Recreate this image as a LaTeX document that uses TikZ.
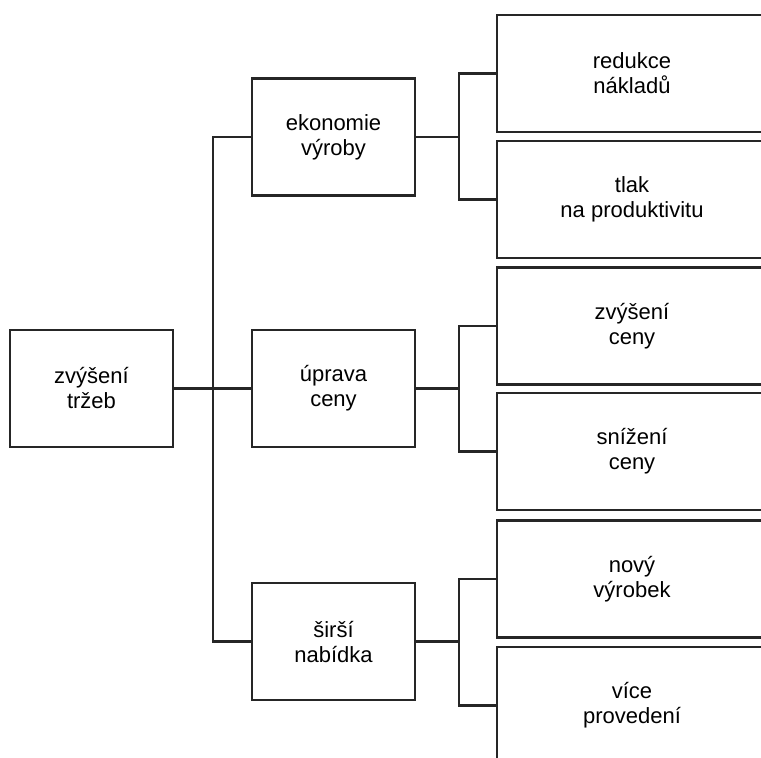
\documentclass[tikz,border=0pt]{standalone}
\usepackage{fontspec}
\setmainfont{Liberation Sans}
\begin{document}
\begin{tikzpicture}[x=1pt,y=-1pt,
  line width=2.1pt,
  color=black!85,
  link/.style={draw=black!85},
  box/.style={draw=black!85, rectangle, minimum height=117pt, inner sep=0pt,
    align=center, font=\fontsize{22}{25}\selectfont, text=black},
  lbox/.style={box, minimum width=163pt},
  rbox/.style={box, minimum width=270pt}]
\useasboundingbox (0,0) rectangle (761,758);
\clip (0,0) rectangle (761,758);

% root
\node[lbox] (root) at (91.5,388.5) {zvýšení\\tržeb};

% second level
\node[lbox] (eko) at (333.5,137) {ekonomie\\výroby};
\node[lbox] (upr) at (333.5,388.5) {úprava\\ceny};
\node[lbox] (sir) at (333.5,641.5) {širší\\nabídka};

% third level
\node[rbox] (red) at (632,73.5) {redukce\\nákladů};
\node[rbox] (tla) at (632,199.5) {tlak\\na produktivitu};
\node[rbox] (zvc) at (632,326) {zvýšení\\ceny};
\node[rbox] (snc) at (632,451.5) {snížení\\ceny};
\node[rbox] (nov) at (632,579) {nový\\výrobek};
\node[rbox] (vic) at (632,705.5) {více\\provedení};

% trunk from the root to the second level
\coordinate (tr) at (213,0);
\draw[link] (root.east) -- (upr.west);
\draw[link] (eko.west) -- (eko.west -| tr) -- (sir.west -| tr) -- (sir.west);

% brackets to the third level
\coordinate (br) at (459,0);
\foreach \p/\a/\b in {eko/red/tla, upr/zvc/snc, sir/nov/vic}{
  \draw[link] (\p.east) -- (\p.east -| br);
  \draw[link] (\a.west) -- (\a.west -| br) -- (\b.west -| br) -- (\b.west);
}
\end{tikzpicture}
\end{document}
